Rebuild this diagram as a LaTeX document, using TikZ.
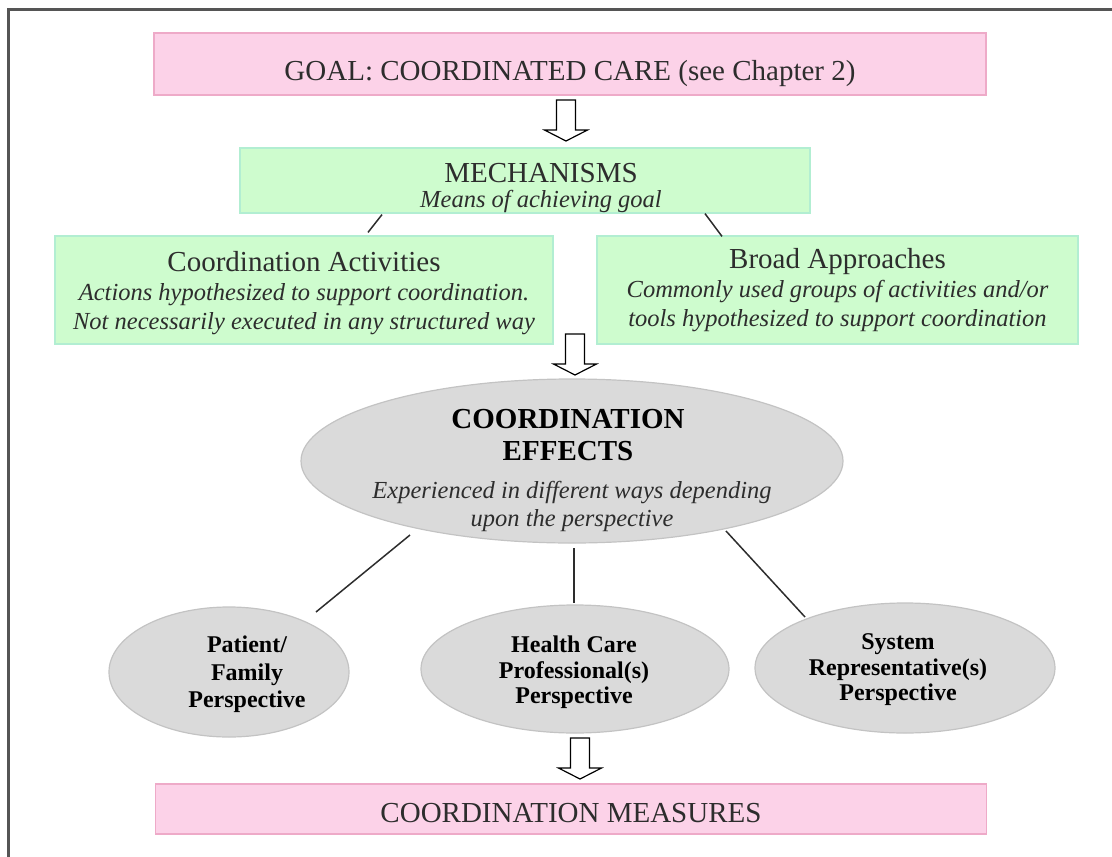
\documentclass[tikz,border=0pt]{standalone}
\usepackage{fontspec}
\setmainfont{Liberation Serif}
\usetikzlibrary{shapes.geometric,calc}

\definecolor{goalpink}{RGB}{252,210,232}
\definecolor{goaledge}{RGB}{238,170,200}
\definecolor{mechgreen}{RGB}{206,252,206}
\definecolor{mechedge}{RGB}{178,238,210}
\definecolor{effgray}{RGB}{218,218,218}
\definecolor{effedge}{RGB}{195,195,195}
\definecolor{txtgray}{RGB}{45,45,45}
\definecolor{framegray}{RGB}{85,85,85}

\tikzset{
 goalbox/.style={draw=goaledge, fill=goalpink, line width=1.2pt, inner sep=0pt},
 mechbox/.style={draw=mechedge, fill=mechgreen, line width=1.2pt, inner sep=0pt},
 effect/.style={ellipse, draw=effedge, fill=effgray, line width=1.2pt, inner sep=0pt},
 headtxt/.style={anchor=base, text=txtgray, font=\fontsize{29}{29}\selectfont},
 subtxt/.style={anchor=base, text=txtgray, font=\fontsize{24.5}{24.5}\selectfont\itshape},
 boldtxt/.style={anchor=base, font=\fontsize{29}{29}\selectfont\bfseries},
 persptxt/.style={anchor=base, font=\fontsize{24}{24}\selectfont\bfseries},
 link/.style={draw=txtgray, line width=1.5pt},
 hollow arrow/.pic={\draw[line width=1.2pt, fill=white, line join=miter]
   (-9.5,0) -- (9.5,0) -- (9.5,30) -- (21.5,30) -- (0,41) -- (-21.5,30) -- (-9.5,30) -- cycle;}
}

\begin{document}
\begin{tikzpicture}[x=1pt, y=-1pt]
 \useasboundingbox (0,0) rectangle (1112,857);
 \draw[framegray, line width=2.5pt] (8.5,857) -- (8.5,9.5) -- (1112,9.5);

 % goal
 \node[goalbox, minimum width=832pt, minimum height=62pt] (goal) at (570,64) {};
 \node[headtxt] (goalT) at (570,80) {GOAL: COORDINATED CARE (see Chapter 2)};
 \pic (a1) at (566,100) {hollow arrow};

 % mechanisms
 \node[mechbox, minimum width=570pt, minimum height=65pt] (mech) at (525,180.5) {};
 \node[headtxt] (mechT) at (541,182) {MECHANISMS};
 \node[subtxt] (mechS) at (541,207) {Means of achieving goal};

 \node[mechbox, minimum width=498pt, minimum height=108pt] (act) at (304,290) {};
 \node[headtxt] (actT) at (304,271) {Coordination Activities};
 \node[subtxt] (actS1) at (304,300) {Actions hypothesized to support coordination.};
 \node[subtxt] (actS2) at (304,329) {Not necessarily executed in any structured way};

 \node[mechbox, minimum width=481pt, minimum height=108pt] (broad) at (837.5,290) {};
 \node[headtxt] (broadT) at (837.5,268) {Broad Approaches};
 \node[subtxt] (broadS1) at (837.5,297) {Commonly used groups of activities and/or};
 \node[subtxt] (broadS2) at (837.5,326) {tools hypothesized to support coordination};

 \draw[link] ($(mech.south)+(-143,1)$) -- ($(act.north)+(64,-3)$);
 \draw[link] ($(mech.south)+(180,0)$) -- ($(broad.north)+(-115.5,1)$);
 \pic (a2) at (575,334) {hollow arrow};

 % effects
 \node[effect, minimum width=542pt, minimum height=164pt] (eff) at (572,461) {};
 \node[boldtxt] (effT1) at (568,428) {COORDINATION};
 \node[boldtxt] (effT2) at (568,460) {EFFECTS};
 \node[subtxt] (effS1) at (572,498) {Experienced in different ways depending};
 \node[subtxt] (effS2) at (572,526) {upon the perspective};

 \node[effect, minimum width=240pt, minimum height=130pt] (pat) at (229,672) {};
 \node[persptxt] (patT1) at (247,652) {Patient/};
 \node[persptxt] (patT2) at (247,680) {Family};
 \node[persptxt] (patT3) at (247,707) {Perspective};

 \node[effect, minimum width=308pt, minimum height=128pt] (hcp) at (575,669) {};
 \node[persptxt] (hcpT1) at (574,652) {Health Care};
 \node[persptxt] (hcpT2) at (574,678) {Professional(s)};
 \node[persptxt] (hcpT3) at (574,703) {Perspective};

 \node[effect, minimum width=300pt, minimum height=130pt] (sys) at (905,668) {};
 \node[persptxt] (sysT1) at (898,649) {System};
 \node[persptxt] (sysT2) at (898,675) {Representative(s)};
 \node[persptxt] (sysT3) at (898,700) {Perspective};

 \draw[link] ($(eff)+(-162,74)$) -- ($(pat)+(87,-60)$);
 \draw[link] ($(eff)+(2,87)$) -- ($(hcp)+(-1,-66)$);
 \draw[link] ($(eff)+(154,70)$) -- ($(sys)+(-100,-51)$);
 \pic (a3) at (580,738) {hollow arrow};

 % measures
 \node[goalbox, minimum width=831pt, minimum height=50pt] (meas) at (571,809) {};
 \node[headtxt] (measT) at (571,822) {COORDINATION MEASURES};
\end{tikzpicture}
\end{document}
